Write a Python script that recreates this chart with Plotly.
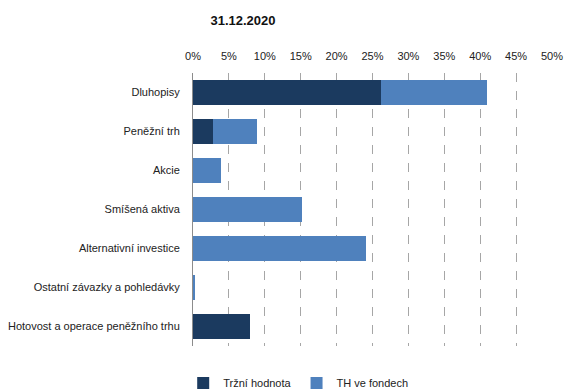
import plotly.graph_objects as go

categories = ["Dluhopisy", "Peněžní trh", "Akcie", "Smíšená aktiva",
              "Alternativní investice", "Ostatní závazky a pohledávky",
              "Hotovost a operace peněžního trhu"]
trzni_hodnota = [26.2, 2.8, 0.0, 0.0, 0.0, 0.0, 7.9]
th_ve_fondech = [14.7, 6.1, 3.9, 15.2, 24.1, 0.2, 0.0]
tick_vals = [0, 5, 10, 15, 20, 25, 30, 35, 40, 45, 50]
tick_text = [f"{v}%" for v in tick_vals]

font_fam = "Liberation Sans Narrow, Arial Narrow, Liberation Sans, Arial, sans-serif"

fig = go.Figure()
fig.add_trace(go.Bar(y=categories, x=trzni_hodnota, orientation="h",
                     name="Tržní hodnota", marker=dict(color="#1B3A5F", line=dict(width=0))))
fig.add_trace(go.Bar(y=categories, x=th_ve_fondech, orientation="h",
                     name="TH ve fondech", marker=dict(color="#4F81BD", line=dict(width=0))))

fig.update_layout(
    width=568, height=392,
    barmode="stack", bargap=0.38,
    paper_bgcolor="white", plot_bgcolor="white",
    margin=dict(l=193, r=16, t=73, b=46, autoexpand=False),
    font=dict(family=font_fam, size=11, color="#222222"),
    title=dict(text="<b>31.12.2020</b>", x=243/568, xanchor="center", y=1-20/392, yanchor="middle",
               font=dict(family=font_fam, size=13, color="#111111")),
    showlegend=True,
    legend=dict(orientation="h", x=0.525, xanchor="center", xref="container",
                y=1-383/392, yanchor="middle", yref="container",
                font=dict(family=font_fam, size=11), itemwidth=30, traceorder="normal",
                tracegroupgap=0),
    xaxis=dict(side="top", range=[0, 50], tickvals=tick_vals, ticktext=tick_text,
               showgrid=True, gridcolor="#A6A6A6", griddash="dash", gridwidth=1,
               zeroline=False, showline=False, ticks="", ticklabelstandoff=10,
               automargin=False),
    yaxis=dict(categoryorder="array", categoryarray=categories[::-1],
               showline=True, linecolor="#8C8C8C", linewidth=1, ticks="",
               ticklabelstandoff=10, showgrid=False, automargin=False),
)
fig.write_html("out.html")
